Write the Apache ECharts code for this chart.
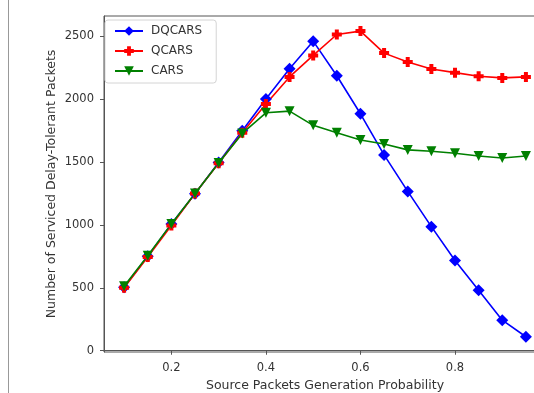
<!DOCTYPE html>
<html>
<head>
<meta charset="utf-8">
<script src="https://cdn.jsdelivr.net/npm/echarts@6/dist/echarts.min.js"></script>
<style>
  html, body { margin: 0; padding: 0; background: #fff; }
  #chart { width: 534px; height: 393px; }
</style>
</head>
<body>
<div id="chart"></div>
<script>
// source packet generation probability
const probs = [0.1, 0.15, 0.2, 0.25, 0.3, 0.35, 0.4, 0.45, 0.5, 0.55, 0.6, 0.65, 0.7, 0.75, 0.8, 0.85, 0.9, 0.95]
const dqcars = [505, 750, 1008, 1248, 1496, 1748, 2000, 2240, 2460, 2185, 1883, 1556, 1266, 986, 717, 480, 243, 111]
const qcars = [500, 745, 995, 1250, 1490, 1733, 1960, 2176, 2347, 2513, 2540, 2365, 2294, 2239, 2210, 2181, 2168, 2176]
const cars = [512, 755, 1008, 1250, 1492, 1727, 1891, 1904, 1791, 1733, 1675, 1643, 1596, 1585, 1569, 1548, 1532, 1548]
const xTicks = [0.2, 0.4, 0.6, 0.8]
const yTicks = [0, 500, 1000, 1500, 2000, 2500]

const font = 'DejaVu Sans'
const plus = 'path://M3,0 H7 V3 H10 V7 H7 V10 H3 V7 H0 V3 H3 Z'

const pairs = ys => probs.map((p, i) => [p, ys[i]])

const chart = echarts.init(document.getElementById('chart'))
chart.setOption({
  animation: false,
  textStyle: { fontFamily: font },
  grid: {
    left: 104, top: 16, width: 442, height: 336, outerBoundsMode: 'none', containLabel: false,
    show: true, borderColor: '#555', borderWidth: 1, backgroundColor: '#fff'
  },
  legend: {
    orient: 'vertical', left: 105, top: 20,
    padding: [5, 14, 6, 9], itemGap: 8, itemWidth: 28, itemHeight: 12,
    backgroundColor: '#fff', borderColor: '#d4d4d4', borderWidth: 1, borderRadius: 3,
    textStyle: { fontFamily: font, fontSize: 12, color: '#333', padding: [0, 0, 0, 3] },
    data: ['DQCARS', 'QCARS', 'CARS']
  },
  xAxis: {
    type: 'value', min: 0.0575, max: 0.9925,
    name: 'Source Packets Generation Probability', nameLocation: 'middle', nameGap: 26,
    nameTextStyle: { fontFamily: font, fontSize: 12.5, color: '#333' },
    axisLine: { lineStyle: { color: '#555' } },
    axisTick: { length: 4, customValues: xTicks, lineStyle: { color: '#555' } },
    axisLabel: { customValues: xTicks, margin: 10, fontFamily: font, fontSize: 11.5, color: '#333', formatter: v => v.toFixed(1) },
    splitLine: { show: false }
  },
  yAxis: {
    type: 'value', min: -10, max: 2660,
    name: 'Number of Serviced Delay-Tolerant Packets', nameLocation: 'middle', nameGap: 46,
    nameMoveOverlap: false,
    nameTextStyle: { fontFamily: font, fontSize: 12.5, color: '#333' },
    axisLine: { show: true, lineStyle: { color: '#555' } },
    axisTick: { show: true, length: 4, customValues: yTicks, lineStyle: { color: '#555' } },
    axisLabel: { customValues: yTicks, margin: 10, fontFamily: font, fontSize: 11.5, color: '#333', formatter: v => String(v) },
    splitLine: { show: false }
  },
  graphic: [{
    type: 'line', shape: { x1: 8.5, y1: 0, x2: 8.5, y2: 393 },
    style: { stroke: '#999', lineWidth: 1 }
  }],
  series: [
    {
      name: 'DQCARS', type: 'line', data: pairs(dqcars),
      symbol: 'diamond', symbolSize: 12,
      lineStyle: { color: '#0000ff', width: 1.6 }, itemStyle: { color: '#0000ff' }
    },
    {
      name: 'QCARS', type: 'line', data: pairs(qcars),
      symbol: plus, symbolSize: 10,
      lineStyle: { color: '#ff0000', width: 1.6 }, itemStyle: { color: '#ff0000' }
    },
    {
      name: 'CARS', type: 'line', data: pairs(cars),
      symbol: 'triangle', symbolRotate: 180, symbolSize: 10,
      lineStyle: { color: '#008000', width: 1.6 }, itemStyle: { color: '#008000' }
    }
  ]
})
</script>
</body>
</html>
